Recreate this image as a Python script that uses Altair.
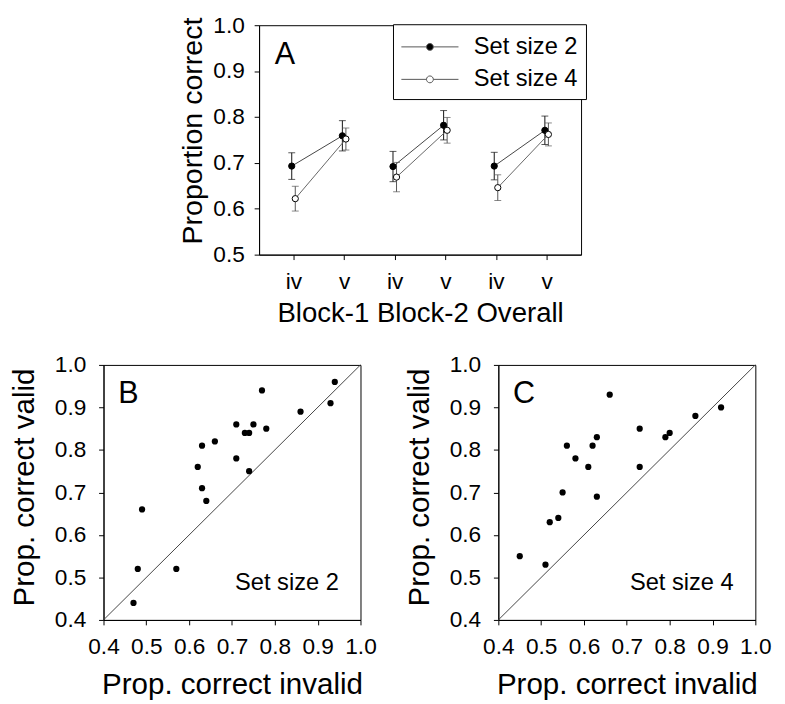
import altair as alt
import pandas as pd

FONT = "Liberation Sans"

# ---------------- Panel A data ----------------
conditions = ["iv", "v", "iv", "v", "iv", "v"]
blocks = ["Block-1", "Block-1", "Block-2", "Block-2", "Overall", "Overall"]
positions = [1, 2, 3, 4, 5, 6]
set_names = ["Set size 2", "Set size 4"]
mean_ss2 = [0.693, 0.759, 0.692, 0.782, 0.693, 0.771]
se_ss2 = [0.029, 0.033, 0.033, 0.032, 0.030, 0.031]
mean_ss4 = [0.622, 0.752, 0.669, 0.771, 0.646, 0.762]
se_ss4 = [0.027, 0.024, 0.032, 0.028, 0.028, 0.025]
dodge = {"Set size 2": -0.035, "Set size 4": 0.035}
line_colors = {"Set size 2": "#444444", "Set size 4": "#666666"}
err_colors = {"Set size 2": "#111111", "Set size 4": "#555555"}

# ---------------- Panel B / C data ----------------
invalid_ss2 = [0.47, 0.48, 0.49, 0.57, 0.62, 0.63, 0.63, 0.64, 0.66, 0.71,
               0.71, 0.73, 0.74, 0.75, 0.74, 0.77, 0.78, 0.86, 0.93, 0.94]
valid_ss2 = [0.44, 0.52, 0.66, 0.52, 0.76, 0.81, 0.71, 0.68, 0.82, 0.86,
             0.78, 0.84, 0.84, 0.86, 0.75, 0.94, 0.85, 0.89, 0.91, 0.96]
invalid_ss4 = [0.45, 0.51, 0.52, 0.54, 0.55, 0.56, 0.58, 0.61, 0.62, 0.63,
               0.63, 0.66, 0.73, 0.73, 0.79, 0.80, 0.86, 0.92]
valid_ss4 = [0.55, 0.53, 0.63, 0.64, 0.70, 0.81, 0.78, 0.76, 0.81, 0.83,
             0.69, 0.93, 0.85, 0.76, 0.83, 0.84, 0.88, 0.90]
diag = [0.4, 1.0]
ticks_bc = [0.4, 0.5, 0.6, 0.7, 0.8, 0.9, 1.0]
ticks_a = [0.5, 0.6, 0.7, 0.8, 0.9, 1.0]

rows = []
for s, means, ses in [("Set size 2", mean_ss2, se_ss2), ("Set size 4", mean_ss4, se_ss4)]:
    for p, c, b, m, e in zip(positions, conditions, blocks, means, ses):
        rows.append({"set": s, "pos": p, "cond": c, "block": b, "mean": m,
                     "lo": m - e, "hi": m + e, "xpos": p + dodge[s]})
df_a = pd.DataFrame(rows)

label_expr = "[" + ",".join("'%s'" % c for c in conditions) + "][datum.value - 1]"

xa = alt.X("xpos:Q", scale=alt.Scale(domain=[0.32, 6.68], nice=False, zero=False),
           axis=alt.Axis(values=positions, labelExpr=label_expr,
                         title="Block-1 Block-2 Overall", labelFontSize=23,
                         labelPadding=11, titleFontSize=28, titlePadding=7,
                         labelFlush=False))
ya_axis = alt.Axis(values=ticks_a, format=".1f", title="Proportion correct",
                   labelFontSize=23, labelPadding=10, titleFontSize=29,
                   titlePadding=6, titleY=107)
ya_scale = alt.Scale(domain=[0.5, 1.0], nice=False, zero=False)

base_a = alt.Chart(df_a)
layers_a = []
first = True
for s in set_names:
    sub = base_a.transform_filter(alt.datum.set == s)
    if first:
        ln = sub.mark_line(strokeWidth=1, color=line_colors[s]).encode(
            x=xa, y=alt.Y("mean:Q", scale=ya_scale, axis=ya_axis),
            detail="block:N", order="pos:Q")
        first = False
    else:
        ln = sub.mark_line(strokeWidth=1, color=line_colors[s]).encode(
            x="xpos:Q", y="mean:Q", detail="block:N", order="pos:Q")
    rl = sub.mark_rule(strokeWidth=1, color=err_colors[s]).encode(
        x="xpos:Q", y="lo:Q", y2="hi:Q")
    c1 = sub.mark_tick(orient="horizontal", size=7, thickness=1, color=err_colors[s]).encode(
        x="xpos:Q", y="lo:Q")
    c2 = sub.mark_tick(orient="horizontal", size=7, thickness=1, color=err_colors[s]).encode(
        x="xpos:Q", y="hi:Q")
    layers_a += [ln, rl, c1, c2]

SYM = ("M-1,0L0.76,0M1.24,0L3,0M0.76,0"
       "A0.24,0.24,0,1,0,1.24,0A0.24,0.24,0,1,0,0.76,0")
points_a = base_a.mark_circle(size=40, stroke="black", strokeWidth=1, opacity=1).encode(
    x="xpos:Q", y="mean:Q",
    fill=alt.Fill("set:N", scale=alt.Scale(domain=set_names, range=["black", "white"]),
                  legend=alt.Legend(title=None, orient="none", legendX=294, legendY=-1,
                                    direction="vertical", strokeColor="black",
                                    fillColor="white", padding=8, labelFont=FONT,
                                    labelFontSize=24, labelColor="black",
                                    symbolType=SYM, symbolSize=841,
                                    symbolStrokeColor="#555555", symbolStrokeWidth=1,
                                    symbolOpacity=1, labelOffset=44, rowPadding=6)))
label_a = alt.Chart(pd.DataFrame({"t": ["A"]})).mark_text(
    align="left", baseline="alphabetic", fontSize=31, font=FONT, color="black").encode(
    x=alt.value(16), y=alt.value(39), text="t:N")

panel_a = alt.layer(*layers_a, points_a, label_a).properties(width=327, height=233)


def scatter(inv, val, letter, setlabel):
    df = pd.DataFrame({"invalid": inv, "valid": val})
    dd = pd.DataFrame({"invalid": diag, "valid": diag})
    xs = alt.Scale(domain=[0.4, 1.0], nice=False, zero=False)
    ys = alt.Scale(domain=[0.4, 1.0], nice=False, zero=False)
    xax = alt.Axis(values=ticks_bc, format=".1f", title="Prop. correct invalid",
                   labelFontSize=23, labelPadding=11, titleFontSize=30,
                   titlePadding=12, labelFlush=False, labelOverlap=False)
    yax = alt.Axis(values=ticks_bc, format=".1f", title="Prop. correct valid",
                   labelFontSize=23, labelPadding=13, titleFontSize=30,
                   titlePadding=15, labelFlush=False, labelOverlap=False,
                   titleY=124)
    dline = alt.Chart(dd).mark_line(color="#444444", strokeWidth=1).encode(
        x=alt.X("invalid:Q", scale=xs, axis=xax),
        y=alt.Y("valid:Q", scale=ys, axis=yax))
    pts = alt.Chart(df).mark_circle(size=40, color="black", opacity=1).encode(
        x="invalid:Q", y="valid:Q")
    lab = alt.Chart(pd.DataFrame({"t": [letter]})).mark_text(
        align="left", baseline="alphabetic", fontSize=31, font=FONT, color="black").encode(
        x=alt.value(15), y=alt.value(39), text="t:N")
    sl = alt.Chart(pd.DataFrame({"t": [setlabel]})).mark_text(
        align="right", baseline="alphabetic", fontSize=24, font=FONT, color="black").encode(
        x=alt.value(239), y=alt.value(229), text="t:N")
    return alt.layer(dline, pts, lab, sl).properties(width=261, height=259)


panel_b = scatter(invalid_ss2, valid_ss2, "B", "Set size 2")
panel_c = scatter(invalid_ss4, valid_ss4, "C", "Set size 4")

spacer = alt.Chart(pd.DataFrame({"s": [0]})).mark_point(opacity=0).encode(
    x=alt.X("s:Q", axis=None), y=alt.Y("s:Q", axis=None)).properties(
    width=158, height=233, view=alt.ViewBackground(stroke="transparent"))

top = alt.hconcat(spacer, panel_a, spacing=0, bounds="flush")
bottom = alt.hconcat(panel_b, panel_c, spacing=140, bounds="flush")

chart = alt.vconcat(top, bottom, spacing=25).properties(
    padding={"left": 1, "top": 0, "right": 5, "bottom": 5}
).configure(font=FONT).configure_view(
    stroke="black", strokeWidth=1
).configure_axis(
    grid=False, domainColor="black", tickColor="black", labelColor="black",
    titleColor="black", labelFont=FONT, titleFont=FONT, titleFontWeight="normal",
    tickSize=5, domainWidth=1, tickWidth=1
)

chart.save("out.html", embed_options={"renderer": "svg", "actions": False})
